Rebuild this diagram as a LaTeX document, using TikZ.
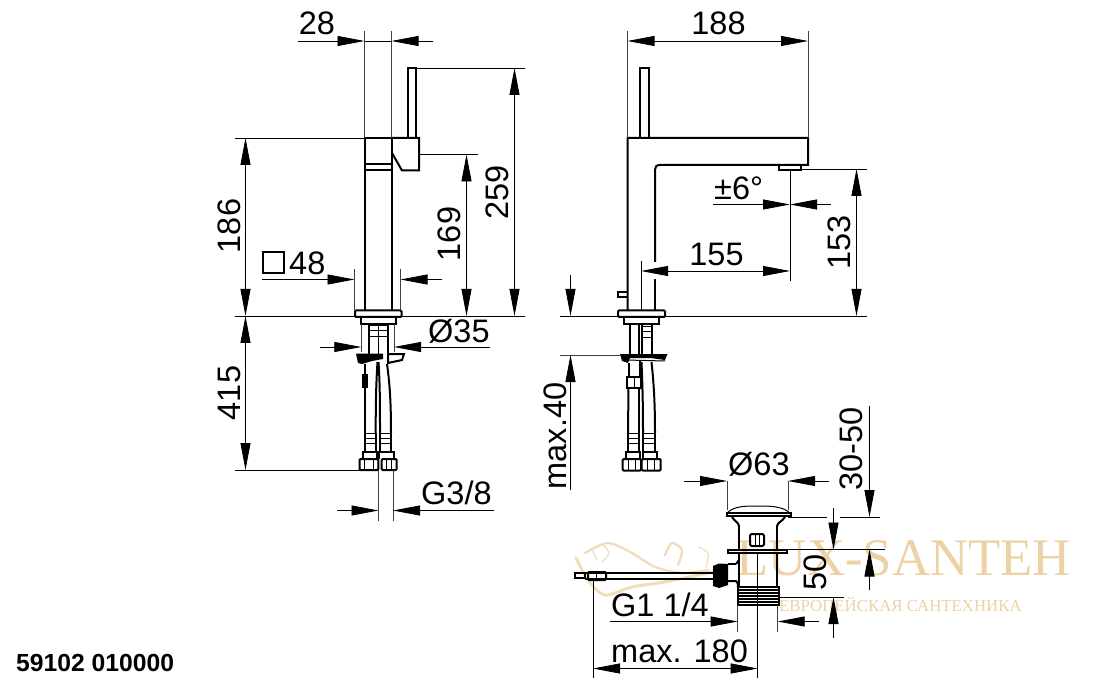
\documentclass[tikz,border=0pt]{standalone}
\usepackage{fontspec}
\setmainfont{Liberation Sans}
\newfontfamily\wmfont{Liberation Serif}
\usetikzlibrary{positioning, arrows.meta}
\definecolor{wmgold}{RGB}{236,210,164}

\begin{document}
\begin{tikzpicture}[
    x=1pt, y=-1pt,
    >={Triangle[length=27pt,width=10pt]},
    part/.style={black, line width=2pt, line join=miter},
    thinpart/.style={black, line width=1pt},
    dim/.style={black, line width=0.8pt},
    ext/.style={black!75, line width=0.8pt},
    label/.style={font=\fontsize{32.5}{32.5}\selectfont, inner sep=0pt},
    wm/.style={wmgold!75, line width=2.4pt, line cap=round}
]
\useasboundingbox (0,0) rectangle (1096,695);

% watermark
\node[wmgold, inner sep=0pt, anchor=base west, font=\wmfont\fontsize{52.8}{52.8}\selectfont] (wmname) at (736.5,575) {LUX-SANTEH};
\node[wmgold, inner sep=0pt, anchor=base west, font=\wmfont\fontsize{16.8}{16.8}\selectfont] (wmsub) at (779,611) {ЕВРОПЕЙСКАЯ САНТЕХНИКА};
\draw[wm, line width=1.2pt] plot[smooth] coordinates {(602,562) (609,553) (602,545) (593,550) (597,560)};
\draw[wm] plot[smooth] coordinates {(585,553) (608,543) (632,553) (655,567) (682,573) (708,570)};
\draw[wm, line width=3pt] plot[smooth] coordinates {(576,558) (588,580) (605,595) (632,587) (665,582) (712,572)};
\draw[wm] plot[smooth] coordinates {(665,555) (672,543) (682,550) (678,565)};
\draw[wm, line width=1.2pt] plot[smooth] coordinates {(698,547) (708,553) (706,567)};

% left view: faucet
\draw[part] (364.5,310) -- (364.5,138) -- (391.5,138) -- (391.5,310);
\draw[part] (364.5,164) -- (391.5,164);
\draw[part] (364.5,170) -- (391.5,170);
\draw[part] (408,138) -- (408,68) -- (416,68) -- (416,138);
\draw[part] (391.5,138) -- (419,138) -- (419,170.5) -- (402,170.5) -- (392,153);
\draw[part, rounded corners=1pt] (355,310.5) rectangle (401.5,317);
\draw[part] (361,317) rectangle (396,324);

% left view: tails and hoses
\draw[part] (368.5,324) -- (368.5,354);
\draw[part] (387.5,324) -- (387.5,354);
\draw[thinpart] (378,324) -- (378,354);
\foreach \y in {326,331,337} \draw[thinpart] (368.5,\y) -- (387.5,\y);
\fill (356,353.5) -- (383,353.5) -- (383,359) -- (372,361) -- (362,364) -- (358,363) -- cycle;
\draw[part] (388,354) -- (404,354) -- (402,360) -- (388,363) -- cycle;
\draw[part] (365,364) -- (365,433);
\draw[part] (377.5,362) .. controls (376,385) and (375.7,405) .. (375.7,433);
\draw[part] (378.5,362) .. controls (380,385) and (380,405) .. (380,433);
\draw[part] (387,364) .. controls (390,385) and (391,405) .. (391,433);
\draw[part] (363,375) rectangle (366.5,387);
\foreach \a/\b/\c/\d/\e/\f in {364.5/375.7/362.5/376.7/359.5/378.3, 380/391/379/393.7/381.7/396.7} {
    \draw[part] (\a,433) -- (\a,452);
    \draw[part] (\b,433) -- (\b,452);
    \foreach \y in {433,438,443} \draw[thinpart] (\a,\y) -- (\b,\y);
    \draw[part] (\c,459) -- (\c,452) -- (\d,452) -- (\d,459);
    \draw[part, rounded corners=1pt] (\e,459) rectangle (\f,470);
    \draw[thinpart] ({\e+5},459) -- ({\e+5},470);
    \draw[thinpart] ({\f-5},459) -- ({\f-5},470);
}

% left view: dimensions
\draw[ext] (364.5,31) -- (364.5,138);
\draw[ext] (391.5,31) -- (391.5,138);
\draw[dim,->] (298,41) -- (364.5,41);
\draw[dim,->] (433,41) -- (391.5,41);
\draw[dim] (364.5,41) -- (391.5,41);
\node[label, anchor=base] (lenA) at (317,35) {28};

\draw[dim] (235,138) -- (364.5,138);
\draw[dim] (235,316) -- (355,316);
\draw[dim] (401,316) -- (525,316);
\draw[dim] (235,470) -- (360,470);
\draw[dim] (416,68) -- (525,68);
\draw[dim] (419,154.5) -- (477.5,154.5);
\draw[dim,<->] (245.5,138) -- (245.5,316);
\draw[dim,<->] (245.5,316) -- (245.5,470);
\draw[dim,<->] (466.5,154.5) -- (466.5,316);
\draw[dim,<->] (514.5,68) -- (514.5,316);
\node[label, rotate=90] (lenB) at (229.5,226) {186};
\node[label, rotate=90] (lenC) at (229.5,393) {415};
\node[label, rotate=90] (lenD) at (449.5,234) {169};
\node[label, rotate=90] (lenE) at (497,192.5) {259};

\draw[ext] (354.5,269) -- (354.5,310);
\draw[ext] (400.5,269) -- (400.5,310);
\draw[dim,->] (262,279.5) -- (354.5,279.5);
\draw[dim,->] (442,279.5) -- (400.5,279.5);
\draw[line width=1.1pt] (263,252) rectangle (284,273);
\node[label, anchor=base west] (lenF) at (289,275) {48};

\draw[ext] (361.3,324) -- (361.3,352);
\draw[ext] (394,324) -- (394,352);
\draw[dim,->] (320,347) -- (361.3,347);
\draw[dim,->] (490,347) -- (394,347);
\node[label, anchor=base west] (lenG) at (428,343) {Ø35};

\draw[ext] (378.5,470) -- (378.5,520.5);
\draw[ext] (393,470) -- (393,520.5);
\draw[dim,->] (337,510.5) -- (378.5,510.5);
\draw[dim,->] (494,510.5) -- (393,510.5);
\node[label, anchor=base west] (lenH) at (421,504) {G3/8};

% right view: faucet
\draw[part] (627.5,310) -- (627.5,138) -- (808,138) -- (808,165) -- (660,165) .. controls (656,165) and (655,167) .. (655,170) -- (655,262);
\draw[part] (655,279) -- (655,310);
\draw[part] (640,138) -- (640,68) -- (648.5,68) -- (648.5,138);
\draw[part] (779,165) -- (779,170) -- (801,170) -- (801,165);
\draw[part] (627.5,292) -- (618,292) -- (618,297) -- (627.5,297);
\draw[part, rounded corners=1pt] (618,310.5) rectangle (665,317);
\draw[part] (624,317) rectangle (659,324);

% right view: tails and hoses
\draw[part] (630,324) -- (630,354);
\draw[part] (639,324) -- (639,354);
\draw[part] (642,324) -- (642,354);
\draw[part] (652,324) -- (652,354);
\foreach \y in {327,332,338} \draw[thinpart] (642,\y) -- (652,\y);
\fill (620,354) -- (667.5,354) -- (665,360) -- (650,358) -- (630,358) -- (628,363) -- (622,361) -- cycle;
\draw[thinpart] (626,360) -- (665,361);
\draw[part] (627,377) rectangle (641,388);
\draw[thinpart] (634,377) -- (634,388);
\draw[part] (629,363) -- (629,377);
\draw[part] (640,360) -- (640,377);
\draw[part] (628.5,388) -- (628,433);
\draw[part] (639,388) -- (639,433);
\draw[part] (641.5,362) .. controls (642.5,385) and (643,405) .. (643,433);
\draw[part] (651.5,362) .. controls (654,385) and (655,405) .. (655,433);
\foreach \a/\b/\c/\d/\e/\f in {628/639.3/625.7/640/622.7/641, 643/655/642.7/656.7/641.7/660.7} {
    \draw[part] (\a,433) -- (\a,452);
    \draw[part] (\b,433) -- (\b,452);
    \foreach \y in {433,438,443} \draw[thinpart] (\a,\y) -- (\b,\y);
    \draw[part] (\c,459) -- (\c,452) -- (\d,452) -- (\d,459);
    \draw[part, rounded corners=1pt] (\e,459) rectangle (\f,470.5);
    \draw[thinpart] ({\e+6},459) -- ({\e+6},470.5);
    \draw[thinpart] ({\f-6},459) -- ({\f-6},470.5);
}

% right view: dimensions
\draw[ext] (627.5,31) -- (627.5,138);
\draw[ext] (808,31) -- (808,138);
\draw[dim,<->] (627.5,41) -- (808,41);
\node[label, anchor=base] (lenI) at (718.5,35) {188};

\draw[dim] (801,169) -- (867,169);
\draw[dim] (560,316) -- (618,316);
\draw[dim] (665,316) -- (867,316);
\draw[dim,<->] (856.5,169) -- (856.5,316);
\node[label, rotate=90] (lenJ) at (839.5,242.5) {153};

\draw[dim] (790,170) -- (790,281);
\draw[dim,->] (713,204.5) -- (790,204.5);
\draw[dim,->] (831,204.5) -- (790,204.5);
\node[label, anchor=base west] (lenK) at (714,200) {±6°};

\draw[dim] (641,261) -- (641,310);
\draw[dim,<->] (641,271) -- (790,271);
\node[label, anchor=base] (lenL) at (716.5,265.5) {155};

\draw[ext] (560,355) -- (620,355);
\draw[dim,->] (570.5,275) -- (570.5,316);
\draw[dim,->] (570.5,490) -- (570.5,355);
\node[label, rotate=90] (lenM) at (555,436) {max.40};

% drain
\draw[part] (574.5,573) rectangle (585,578);
\draw[part] (585,573) -- (713,573);
\draw[part] (585,578.5) -- (713,578.5);
\draw[part, rounded corners=1pt] (588,572) rectangle (606,580);
\draw[thinpart] (596,572) -- (596,580);
\fill (713,566) -- (719,563.5) -- (728,564) -- (728,585) -- (719,588) -- (713,586) -- cycle;
\draw[part] (728,564) -- (736,564);
\draw[part] (728,581) -- (736,581) .. controls (738,582) and (738,584) .. (738,587);
\draw[part] (736,564) -- (739,560);
\draw[part] (739,552) -- (739,587);
\draw[part] (777,552) -- (777,587);
\draw[part] (739,525) -- (739,549.5);
\draw[part] (777,525) -- (777,549.5);
\draw[part] (732,517) .. controls (735,522) and (739,522) .. (739,527);
\draw[part] (785,517) .. controls (782,522) and (777,522) .. (777,527);
\draw[part] (728,549.5) rectangle (787,552.5);
\draw[part, rounded corners=2pt] (750,534) rectangle (764,546);
\draw[thinpart] (755,534) -- (755,546);
\draw[thinpart] (759,534) -- (759,546);
\draw[thinpart] (727,513) .. controls (734,506) and (745,506) .. (757.5,506) .. controls (770,506) and (782,506) .. (790,513);
\draw[part] (727,513) -- (727,516) -- (790.5,516) -- (790.5,513) -- cycle;
\draw[part] (738,587) rectangle (779,604.5);
\foreach \y in {590,593,596,599,602} \draw[line width=1.5pt] (738,\y) -- (779,\y);

% drain: dimensions
\draw[ext] (727,481) -- (727,510);
\draw[ext] (788,481) -- (788,510);
\draw[dim,->] (684,481) -- (727,481);
\draw[dim,->] (829,481) -- (788,481);
\node[label, anchor=base west] (lenN) at (728,475) {Ø63};

\draw[dim] (788,517) -- (827,517);
\draw[dim] (840,517) -- (880,517);
\draw[dim] (787,549.5) -- (885,549.5);
\draw[dim] (779,597) -- (844,597);
\draw[dim,->] (833.5,508) -- (833.5,549.5);
\draw[dim,->] (833.5,638) -- (833.5,597);
\draw[dim,->] (869.5,406) -- (869.5,517);
\draw[dim,->] (869.5,590) -- (869.5,549.5);
\node[label, rotate=90] (lenO) at (815,572) {50};
\node[label, rotate=90] (lenP) at (851,449) {30-50};

\draw[dim] (757.7,552) -- (757.7,678);
\draw[dim] (593,580) -- (593,678);
\draw[dim,<->] (593,668.5) -- (757.7,668.5);
\node[label, anchor=base west] (lenQ) at (611,662) {max. 180};

\draw[ext] (737.7,605) -- (737.7,632);
\draw[ext] (777.7,605) -- (777.7,632);
\draw[dim,->] (610,621.5) -- (737.7,621.5);
\draw[dim,->] (819,621.5) -- (777.7,621.5);
\node[label, anchor=base west] (lenR) at (611,616) {G1 1/4};

% article number
\node[inner sep=0pt, anchor=base west, font=\bfseries\fontsize{24.7}{24.7}\selectfont] (artno) at (16,671) {59102 010000};

\end{tikzpicture}
\end{document}
